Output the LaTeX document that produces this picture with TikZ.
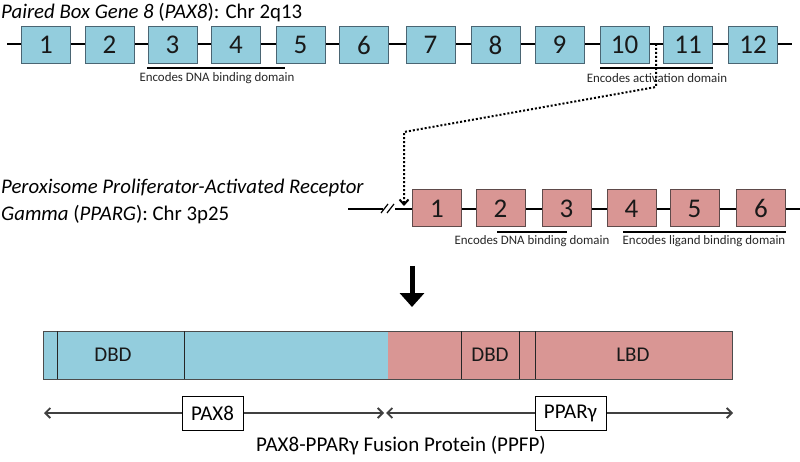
\documentclass[tikz,border=0pt]{standalone}
\usepackage{fontspec}
\setmainfont{Carlito}
\usetikzlibrary{arrows.meta}
\definecolor{pblue}{HTML}{93CDDD}
\definecolor{ppink}{HTML}{D99694}
\definecolor{bblue}{HTML}{4A6573}
\definecolor{bpink}{HTML}{5E4A4A}
\definecolor{agray}{HTML}{404040}
\begin{document}
\begin{tikzpicture}[x=1pt,y=-1pt,
  exonbase/.style={line width=1pt, minimum width=49pt, minimum height=37pt, inner sep=0pt,
    font=\fontsize{27}{27}\selectfont, text=black!90},
  exonA/.style={exonbase, draw=bblue, fill=pblue},
  exonB/.style={exonbase, draw=bpink, fill=ppink},
  gene/.style={line width=1.6pt, black},
  under/.style={line width=1.8pt, black},
  small/.style={font=\fontsize{12.9}{13}\selectfont, text=black!85, inner sep=0pt},
  genelabel/.style={font=\fontsize{20.8}{21}\selectfont, anchor=west, inner sep=0pt},
  dom/.style={font=\fontsize{21}{21}\selectfont, text=black!90, inner sep=0pt},
  tag/.style={draw, line width=0.8pt, fill=white, font=\fontsize{21}{21}\selectfont, inner sep=0pt, minimum height=34pt},
  garrow/.style={line width=1.8pt, agray, {Straight Barb[length=5pt,width=10pt]}-{Straight Barb[length=5pt,width=10pt]}}
]
\useasboundingbox (0,0) rectangle (800,462);

% ---- PAX8 gene
\node[genelabel] (paxlabel) at (1,13) {\textit{Paired Box Gene 8} (\textit{PAX8}): Chr 2q13};
\coordinate (paxL) at (7,44);
\coordinate (paxR) at (792,44);
\draw[gene] (paxL) -- (paxR);
\foreach \n/\x in {1/46,2/109.5,3/172.5,4/236,5/300.5,6/364,7/430.5,8/495.5,9/559.5,10/624.5,11/688,12/753}
  \node[exonA] (pax\n) at (\x,45) {\n};
\draw[under] (147,68) -- (285,68);
\node[small] (paxdbd) at (217,78.5) {Encodes DNA binding domain};
\draw[under] (600,68) -- (713,68);

% ---- dotted junction
\coordinate (j0) at (656,44);
\coordinate (j1) at (656,87);
\coordinate (j2) at (404,132);
\coordinate (j3) at (404,206);
\draw[line width=2pt, dash pattern=on 2pt off 2pt, -{Straight Barb[length=5pt,width=9pt]}]
  (j0) -- (j1) -- (j2) -- (j3);
\node[small] (paxact) at (657,78.5) {Encodes activation domain};

% ---- PPARG gene
\node[genelabel] (pplabel1) at (1,188) {\textit{Peroxisome Proliferator-Activated Receptor}};
\node[genelabel] (pplabel2) at (1,215) {\textit{Gamma} (\textit{PPARG}): Chr 3p25};
\coordinate (ppL) at (348,209);
\coordinate (ppB1) at (383,209);
\coordinate (ppB2) at (395,209);
\coordinate (ppR) at (800,209);
\draw[gene] (ppL) -- (ppB1);
\draw[gene] (ppB2) -- (ppR);
\draw[line width=1.2pt] (381,213) -- (388,204);
\draw[line width=1.2pt] (387,213) -- (394,204);
\foreach \n/\x in {1/437,2/500.5,3/566.5,4/631.5,5/694.5,6/761}
  \node[exonB] (pp\n) at (\x,208.5) {\n};
\draw[under] (497,232) -- (567,232);
\draw[under] (623,232) -- (786,232);
\node[small] (ppdbd) at (532,241) {Encodes DNA binding domain};
\node[small] (pplbd) at (704,241) {Encodes ligand binding domain};

% ---- big arrow
\coordinate (a0) at (412,266);
\coordinate (a1) at (412,307);
\draw[line width=5pt, -{Triangle[length=14pt,width=24pt]}] (a0) -- (a1);

% ---- fusion protein
\fill[pblue] (43,331) rectangle (388,379);
\fill[ppink] (388,331) rectangle (732,379);
\draw[line width=1pt, black!70] (43,331) rectangle (732,379);
\foreach \x in {57,184,461,519,535}
  \draw[line width=0.9pt, black!85] (\x,331) -- (\x,379);
\node[dom] (dbd1) at (113,355) {DBD};
\node[dom] (dbd2) at (490,355) {DBD};
\node[dom] (lbd) at (633,355) {LBD};

% ---- bottom arrows
\coordinate (bL) at (44,413);
\coordinate (bM1) at (384,413);
\coordinate (bM2) at (386,413);
\coordinate (bR) at (733,413);
\draw[garrow] (bL) -- (bM1);
\draw[garrow] (bM2) -- (bR);
\node[tag, minimum width=61pt] (tpax) at (212.5,413) {PAX8};
\node[tag, minimum width=71pt] (tppar) at (570.5,413) {PPARγ};
\node[font=\fontsize{21}{21}\selectfont, inner sep=0pt] (ftitle) at (401,446) {PAX8-PPARγ Fusion Protein (PPFP)};
\end{tikzpicture}
\end{document}
